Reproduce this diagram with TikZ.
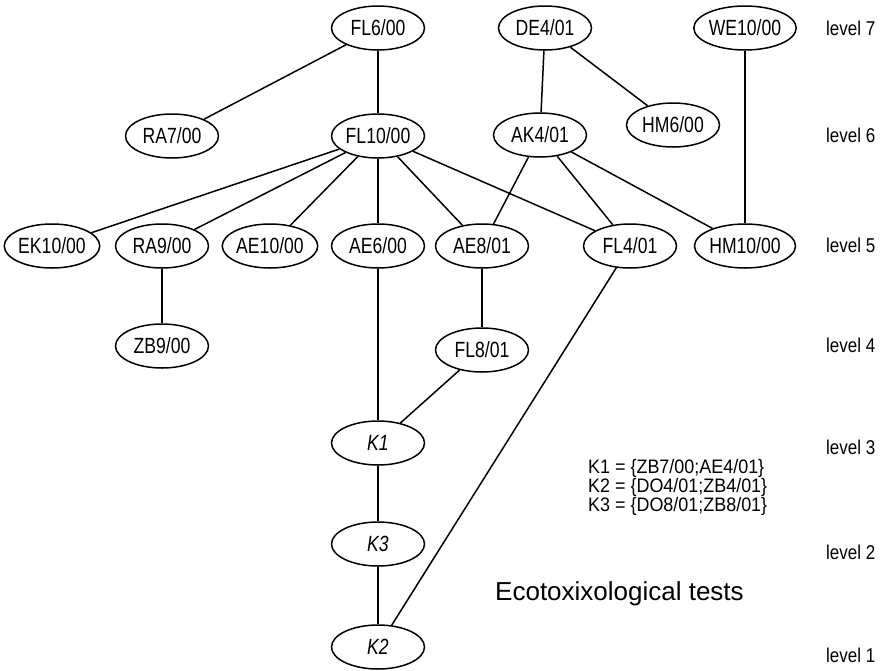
\documentclass[tikz,border=0pt]{standalone}
\usepackage{fontspec}
\setmainfont{Liberation Sans}
\newfontfamily\nodefont{Liberation Sans}[FakeStretch=0.8]
\newfontfamily\levelfont{Liberation Sans}[FakeStretch=0.85]
\newfontfamily\legendfont{Liberation Sans}[FakeStretch=0.92]
\usetikzlibrary{shapes.geometric}
\tikzset{
  ev/.style={ellipse, draw, line width=1.5pt, minimum width=93pt, minimum height=44pt, inner sep=0pt,
    font=\nodefont\fontsize{22}{22}\selectfont},
  kv/.style={ev, font=\nodefont\itshape\fontsize{22}{22}\selectfont},
  lvl/.style={anchor=west, inner sep=0pt, font=\levelfont\fontsize{20}{20}\selectfont},
  leg/.style={anchor=base west, inner sep=0pt, font=\legendfont\fontsize{19.5}{19.5}\selectfont},
  edge/.style={line width=1.5pt}
}
\begin{document}
\begin{tikzpicture}[x=1pt,y=-1pt]
\useasboundingbox[fill=white] (0,0) rectangle (884,670);
% level 7
\node[ev] (fl6) at (378,28) {FL6/00};
\node[ev] (de4) at (545,28) {DE4/01};
\node[ev] (we10) at (745,28) {WE10/00};
% level 6
\node[ev] (ra7) at (172,136) {RA7/00};
\node[ev] (fl10) at (378,136) {FL10/00};
\node[ev] (ak4) at (540,135) {AK4/01};
\node[ev] (hm6) at (673,125) {HM6/00};
% level 5
\node[ev] (ek10) at (52,246) {EK10/00};
\node[ev] (ra9) at (162,246) {RA9/00};
\node[ev] (ae10) at (270,246) {AE10/00};
\node[ev] (ae6) at (378,246) {AE6/00};
\node[ev] (ae8) at (482,246) {AE8/01};
\node[ev] (fl4) at (630,246) {FL4/01};
\node[ev] (hm10) at (745,246) {HM10/00};
% level 4
\node[ev] (zb9) at (162,346) {ZB9/00};
\node[ev] (fl8) at (482,350) {FL8/01};
% levels 3-1
\node[kv] (k1) at (378,443) {K1};
\node[kv] (k3) at (378,544) {K3};
\node[kv] (k2) at (378,647) {K2};
% edges
\draw[edge] (fl6) -- (ra7);
\draw[edge] (fl6) -- (fl10);
\draw[edge] (de4) -- (ak4);
\draw[edge] (de4) -- (hm6);
\draw[edge] (we10) -- (hm10);
\draw[edge] (fl10) -- (ek10);
\draw[edge] (fl10) -- (ra9);
\draw[edge] (fl10) -- (ae10);
\draw[edge] (fl10) -- (ae6);
\draw[edge] (fl10) -- (ae8);
\draw[edge] (fl10) -- (fl4);
\draw[edge] (ak4) -- (ae8);
\draw[edge] (ak4) -- (fl4);
\draw[edge] (ak4) -- (hm10);
\draw[edge] (ra9) -- (zb9);
\draw[edge] (ae6) -- (k1);
\draw[edge] (ae8) -- (fl8);
\draw[edge] (fl8) -- (k1);
\draw[edge] (k1) -- (k3);
\draw[edge] (k3) -- (k2);
\draw[edge] (fl4) -- (k2);
% level labels
\node[lvl] (l7) at (826,28) {level 7};
\node[lvl] (l6) at (826,135) {level 6};
\node[lvl] (l5) at (826,245) {level 5};
\node[lvl] (l4) at (826,345) {level 4};
\node[lvl] (l3) at (826,447) {level 3};
\node[lvl] (l2) at (826,552) {level 2};
\node[lvl] (l1) at (826,655) {level 1};
% legend
\node[leg] (g1) at (588,473) {K1 = \{ZB7/00;AE4/01\}};
\node[leg] (g2) at (588,492) {K2 = \{DO4/01;ZB4/01\}};
\node[leg] (g3) at (588,511) {K3 = \{DO8/01;ZB8/01\}};
\node[anchor=base west, inner sep=0pt, font=\fontsize{26}{26}\selectfont] (title) at (495,600) {Ecotoxixological tests};
\end{tikzpicture}
\end{document}
